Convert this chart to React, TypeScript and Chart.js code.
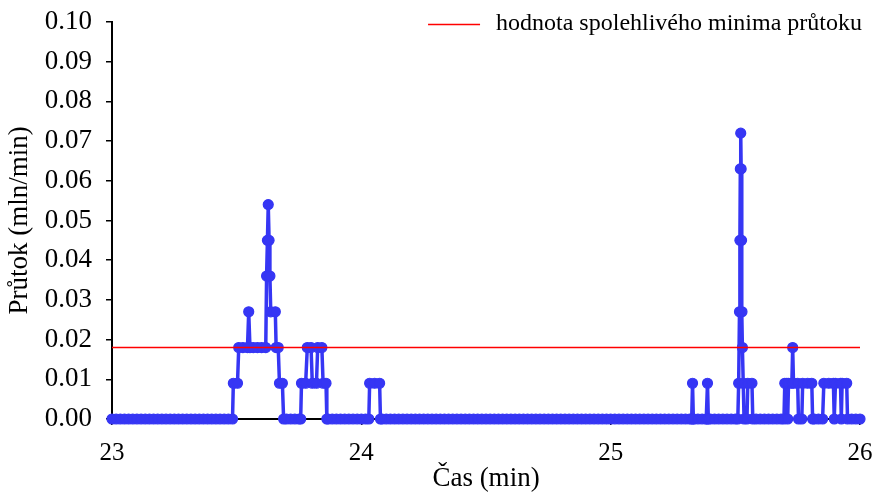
import { useEffect, useRef } from "react";
import { Chart, registerables } from "chart.js";

Chart.register(...registerables);

const FONT = "'Liberation Serif', 'Times New Roman', serif";
const BLUE = "#3636f4";
const RED = "#ff0000";

// Time offsets in seconds after minute 23 (sampling ~1 s, finer at steps)
const timeSec = [
  0, 1, 2, 3, 4, 5, 6, 7, 8, 9,
  10, 11, 12, 13, 14, 15, 16, 17, 18, 19,
  20, 21, 22, 23, 24, 25, 26, 27, 28, 29,
  29.2, 30.2, 30.5, 31.5, 32.6, 32.9, 33.2, 34, 35, 36, 37, 37.2, 37.4, 37.6, 37.8, 38, 38.2, 39.3, 39.5, 40, 40.3, 41, 41.3,
  42, 43, 44, 45, 45.4,
  45.6, 46.6, 47, 47.9, 48.2, 49.2, 49.5, 50.5, 50.8, 51.5, 51.7,
  52, 53, 54, 55, 56, 57, 58, 59, 60, 61, 61.8,
  62, 63.2, 64.4, 64.6,
  65, 66, 67, 68, 69, 70, 71, 72, 73, 74,
  75, 76, 77, 78, 79, 80, 81, 82, 83, 84,
  85, 86, 87, 88, 89, 90, 91, 92, 93, 94,
  95, 96, 97, 98, 99, 100, 101, 102, 103, 104,
  105, 106, 107, 108, 109, 110, 111, 112, 113, 114,
  115, 116, 117, 118, 119, 120, 121, 122, 123, 124,
  125, 126, 127, 128, 129, 130, 131, 132, 133, 134,
  135, 136, 137, 138, 139, 139.5,
  139.7, 139.9,
  140, 141, 142, 143, 143.1,
  143.3, 143.5,
  144, 145, 146, 147, 148, 149, 150, 150.6,
  150.8, 151, 151.1, 151.2, 151.3, 151.4, 151.5, 151.6, 151.7, 151.9, 152.1, 152.8, 153, 154, 154.2,
  155, 156, 157, 158, 159, 160, 161, 161.7,
  161.9, 162.4, 162.6, 162.8, 163.6, 163.8, 164, 165, 165.2, 166, 166.2, 167.4, 168.4, 168.6,
  169, 170, 171,
  171.3, 172.5, 173.6, 173.8, 174.1, 175.3, 175.5, 175.7, 176.8, 177,
  178, 179, 180,
];

// Flow values (mln/min), one per time above
const flowValue = [
  0, 0, 0, 0, 0, 0, 0, 0, 0, 0,
  0, 0, 0, 0, 0, 0, 0, 0, 0, 0,
  0, 0, 0, 0, 0, 0, 0, 0, 0, 0,
  0.009, 0.009, 0.018, 0.018, 0.018, 0.027, 0.018, 0.018, 0.018, 0.018, 0.018, 0.036, 0.045, 0.054, 0.045, 0.036, 0.027, 0.027, 0.018, 0.018, 0.009, 0.009, 0,
  0, 0, 0, 0, 0,
  0.009, 0.009, 0.018, 0.018, 0.009, 0.009, 0.018, 0.018, 0.009, 0.009, 0,
  0, 0, 0, 0, 0, 0, 0, 0, 0, 0, 0,
  0.009, 0.009, 0.009, 0,
  0, 0, 0, 0, 0, 0, 0, 0, 0, 0,
  0, 0, 0, 0, 0, 0, 0, 0, 0, 0,
  0, 0, 0, 0, 0, 0, 0, 0, 0, 0,
  0, 0, 0, 0, 0, 0, 0, 0, 0, 0,
  0, 0, 0, 0, 0, 0, 0, 0, 0, 0,
  0, 0, 0, 0, 0, 0, 0, 0, 0, 0,
  0, 0, 0, 0, 0, 0, 0, 0, 0, 0,
  0, 0, 0, 0, 0, 0,
  0.009, 0,
  0, 0, 0, 0, 0,
  0.009, 0,
  0, 0, 0, 0, 0, 0, 0, 0,
  0.009, 0.027, 0.045, 0.063, 0.072, 0.063, 0.045, 0.027, 0.018, 0.009, 0, 0, 0.009, 0.009, 0,
  0, 0, 0, 0, 0, 0, 0, 0,
  0.009, 0.009, 0, 0.009, 0.009, 0.018, 0.009, 0.009, 0, 0, 0.009, 0.009, 0.009, 0,
  0, 0, 0,
  0.009, 0.009, 0.009, 0, 0.009, 0.009, 0, 0.009, 0.009, 0,
  0, 0, 0,
];

const startMinute = 23;
const xMin = 23;
const xMax = 26;
const yMin = 0;
const yMax = 0.1;
const minFlow = 0.018;
const minFlowLabel = "hodnota spolehlivého minima průtoku";
const xTitle = "Čas (min)";
const yTitle = "Průtok (mln/min)";

export default function App() {
  const ref = useRef<HTMLCanvasElement>(null);

  useEffect(() => {
    if (!ref.current) return;
    const points = timeSec.map((s, i) => ({ x: startMinute + s / 60, y: flowValue[i] }));

    const lineLegend = {
      id: "lineLegend",
      afterDraw(chart: any) {
        const { ctx, chartArea } = chart;
        const ds = chart.data.datasets[1];
        ctx.save();
        ctx.font = `24px ${FONT}`;
        ctx.fillStyle = "#000";
        ctx.textAlign = "right";
        ctx.textBaseline = "alphabetic";
        const tx = chartArea.right + 2;
        const ty = chartArea.top + 8;
        ctx.fillText(ds.label, tx, ty);
        const w = ctx.measureText(ds.label).width;
        const lx2 = tx - w - 16;
        const lx1 = lx2 - 52;
        const ly = chartArea.top + 2.5;
        ctx.strokeStyle = RED;
        ctx.lineWidth = 1.6;
        ctx.beginPath();
        ctx.moveTo(lx1, ly);
        ctx.lineTo(lx2, ly);
        ctx.stroke();
        ctx.restore();
      },
    };

    const axisCommon = {
      grid: {
        display: true,
        drawOnChartArea: false,
        drawTicks: true,
        tickLength: 6,
        color: "#000",
        lineWidth: 1.5,
      },
      border: { display: true, color: "#000", width: 2 },
    };

    const chart = new Chart(ref.current, {
      type: "line",
      data: {
        datasets: [
          {
            label: "Průtok",
            data: points,
            borderColor: BLUE,
            backgroundColor: BLUE,
            borderWidth: 3.5,
            pointRadius: 5,
            pointBorderWidth: 1.2,
            pointBackgroundColor: BLUE,
            pointBorderColor: BLUE,
            tension: 0,
            clip: false as any,
            order: 2,
          },
          {
            label: minFlowLabel,
            data: [
              { x: xMin, y: minFlow },
              { x: xMax, y: minFlow },
            ],
            borderColor: RED,
            backgroundColor: RED,
            borderWidth: 1.6,
            pointRadius: 0,
            order: 1,
          },
        ],
      },
      options: {
        responsive: false,
        animation: false,
        devicePixelRatio: 1,
        layout: { padding: { top: 22, right: 14, left: 0, bottom: 0 } },
        plugins: { legend: { display: false }, tooltip: { enabled: false } },
        scales: {
          x: {
            type: "linear",
            min: xMin,
            max: xMax,
            ...axisCommon,
            ticks: {
              stepSize: 1,
              color: "#000",
              padding: 13,
              font: { family: FONT, size: 25 },
              callback: (v: any) => String(v),
            },
            title: {
              display: true,
              text: xTitle,
              color: "#000",
              font: { family: FONT, size: 27, lineHeight: 1 },
              padding: { top: 0, bottom: 0 },
            },
            afterFit: (s: any) => {
              s.height = 73;
              s.paddingLeft = 0;
              s.paddingRight = 0;
            },
          },
          y: {
            type: "linear",
            min: yMin,
            max: yMax,
            ...axisCommon,
            ticks: {
              stepSize: 0.01,
              color: "#000",
              padding: 14,
              font: { family: FONT, size: 27 },
              callback: (v: any) => Number(v).toFixed(2),
            },
            title: {
              display: true,
              text: yTitle,
              color: "#000",
              font: { family: FONT, size: 27, lineHeight: 1.2 },
              padding: { top: 4, bottom: 4 },
            },
            afterFit: (s: any) => {
              s.width = 112;
              s.paddingTop = 0;
              s.paddingBottom = 0;
            },
          },
        },
      },
      plugins: [lineLegend],
    });
    return () => chart.destroy();
  }, []);

  return (
    <div style={{ position: "fixed", left: 0, top: 0, width: 874, height: 492, background: "#fff" }}>
      <canvas ref={ref} width={874} height={492} style={{ display: "block" }} />
    </div>
  );
}
